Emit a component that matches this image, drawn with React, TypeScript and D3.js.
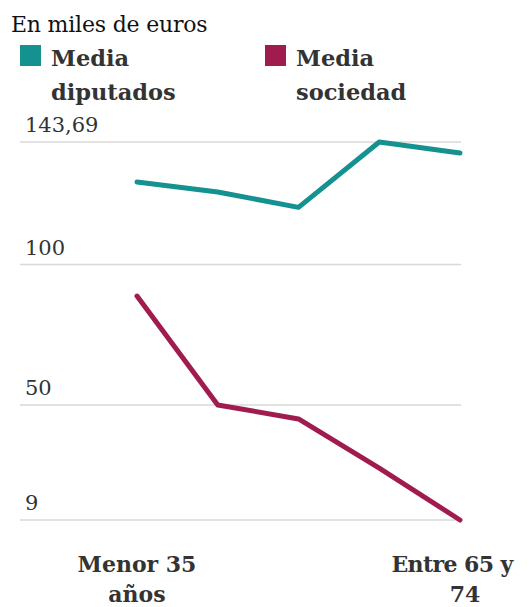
import React, { useEffect, useRef } from 'react';
import * as d3 from 'd3';

const categories = ['Menor 35 años', 'Entre 35 y 44', 'Entre 45 y 54', 'Entre 55 y 64', 'Entre 65 y 74'];
const diputados = [129.4, 125.9, 120.4, 143.69, 139.8];
const sociedad = [88.8, 50, 45, 27.5, 9];
const yTicks = [9, 50, 100, 143.69];
const xLabels = [['Menor 35', 'años'], null, null, null, ['Entre 65 y', '74']];

const TEAL = '#159190';
const WINE = '#a01c4f';
const FONT = '"DejaVu Serif", serif';

const App = () => {
  const svgRef = useRef<SVGSVGElement>(null);

  useEffect(() => {
    const w = 529;
    const h = 607;
    const svg = d3.select(svgRef.current).attr('width', w).attr('height', h);
    svg.selectAll('*').remove();

    const x = d3.scalePoint().domain(categories).range([137, 460]);
    const y = d3.scaleLinear().domain([9, 143.69]).range([520, 142]);

    // title
    svg.append('text')
      .attr('x', 11).attr('y', 32)
      .style('font-family', FONT).style('font-size', '22px')
      .style('letter-spacing', '-0.2px')
      .attr('fill', '#111')
      .text('En miles de euros');

    // legend
    const legend = [
      { name: ['Media', 'diputados'], color: TEAL, x: 20 },
      { name: ['Media', 'sociedad'], color: WINE, x: 265 },
    ];
    legend.forEach((l) => {
      const g = svg.append('g').attr('transform', `translate(${l.x},0)`);
      g.append('rect').attr('x', 0).attr('y', 45).attr('width', 21).attr('height', 21).attr('fill', l.color);
      l.name.forEach((t, i) => {
        g.append('text')
          .attr('x', 31).attr('y', 66 + i * 34)
          .style('font-family', FONT).style('font-size', '22.5px').style('font-weight', 'bold')
          .attr('fill', '#333')
          .text(t);
      });
    });

    // grid + ticks
    const grid = svg.append('g');
    yTicks.forEach((t) => {
      grid.append('line')
        .attr('x1', 20).attr('x2', 461)
        .attr('y1', y(t)).attr('y2', y(t))
        .attr('stroke', '#d9d9d9').attr('stroke-width', 1.5);
      grid.append('text')
        .attr('x', 25).attr('y', y(t) - 10)
        .style('font-family', FONT).style('font-size', '21px')
        .attr('fill', '#333')
        .text(d3.format(',')(t).replace('.', ','));
    });

    const line = d3.line<number>()
      .x((d, i) => x(categories[i])!)
      .y((d) => y(d));

    [[diputados, TEAL], [sociedad, WINE]].forEach(([data, color]) => {
      svg.append('path')
        .datum(data as number[])
        .attr('d', line)
        .attr('fill', 'none')
        .attr('stroke', color as string)
        .attr('stroke-width', 5)
        .attr('stroke-linecap', 'round')
        .attr('stroke-linejoin', 'round');
    });

    // x labels
    categories.forEach((c, i) => {
      const lab = xLabels[i];
      if (!lab) return;
      const last = i === categories.length - 1;
      lab.forEach((t, j) => {
        svg.append('text')
          .attr('x', x(c)! + (last ? (j === 0 ? -8 : 5) : 0))
          .attr('y', 572 + j * 30)
          .attr('text-anchor', 'middle')
          .style('font-family', FONT).style('font-size', '22px').style('font-weight', 'bold')
          .style('letter-spacing', j === 0 && last ? '-0.6px' : '0px')
          .attr('fill', '#333')
          .text(t);
      });
    });
  }, []);

  return <svg ref={svgRef} style={{ position: 'absolute', left: 0, top: 0, display: 'block' }}></svg>;
};

export default App;
